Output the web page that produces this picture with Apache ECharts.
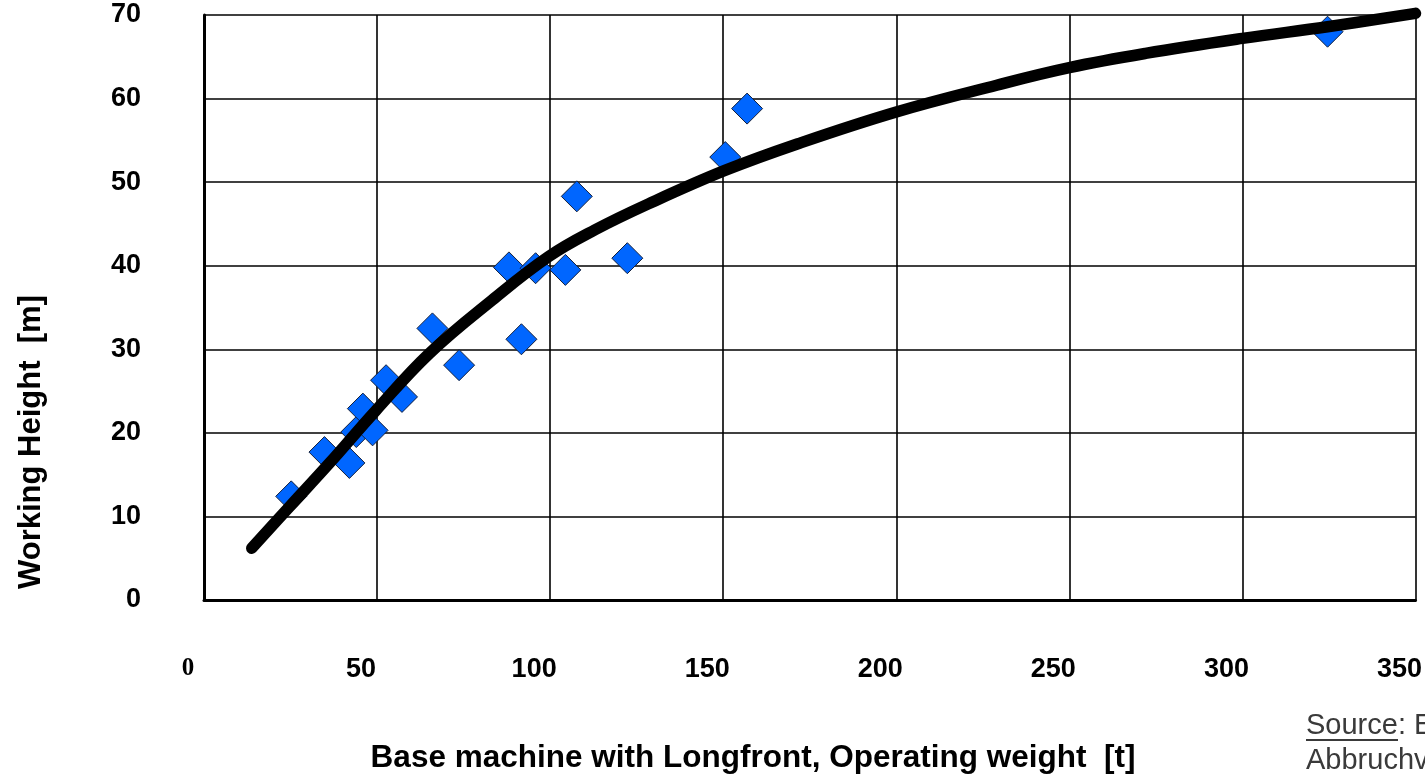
<!DOCTYPE html>
<html>
<head>
<meta charset="utf-8">
<title>Working height vs operating weight</title>
<script src="https://cdn.jsdelivr.net/npm/echarts/dist/echarts.min.js"></script>
<style>
  html, body { margin: 0; padding: 0; background: #fff; }
  #chart { width: 1425px; height: 779px; }
</style>
</head>
<body>
<div id="chart"></div>
<script>
// machines: operating weight [t] / working height [m]
var weightT = [25.2, 34.8, 42.0, 44.0, 45.9, 48.7, 52.6, 57.2, 66.0, 73.7, 88.1, 91.7, 95.8, 104.4, 107.7, 122.3, 150.6, 156.9, 324.6];
var heightM = [12.4, 17.7, 16.4, 20.1, 22.9, 20.3, 26.3, 24.3, 32.5, 28.1, 39.8, 31.2, 39.7, 39.5, 48.3, 40.9, 53.0, 58.8, 68.0];

// trend curve
var trendX = [13.8, 24.8, 36.3, 49.7, 65.1, 83.3, 99.6, 113.0, 128.4, 150.5, 171.6, 200, 229, 250, 272, 300, 324.6, 350];
var trendY = [6.2, 11.2, 16.4, 22.7, 29.5, 35.9, 41.1, 44.3, 47.4, 51.4, 54.6, 58.4, 61.6, 63.7, 65.4, 67.2, 68.6, 70.2];

var xTicks = [0, 50, 100, 150, 200, 250, 300, 350];
var yTicks = [0, 10, 20, 30, 40, 50, 60, 70];

var font = '"Liberation Sans", Arial, sans-serif';

function pairs(a, b) {
    var out = [];
    for (var i = 0; i < a.length; i++) out.push([a[i], b[i]]);
    return out;
}

var chart = echarts.init(document.getElementById("chart"));
chart.setOption({
    animation: false,
    backgroundColor: "#fff",
    grid: { left: 204, top: 15, right: 5, bottom: 179, containLabel: false },
    xAxis: {
        type: "value",
        min: xTicks[0],
        max: xTicks[xTicks.length - 1],
        interval: 50,
        axisLine: { lineStyle: { color: "#000", width: 3 } },
        axisTick: { show: false },
        splitLine: { lineStyle: { color: "#000", width: 1.6 } },
        axisLabel: {
            margin: 56,
            padding: [0, 32, 0, 0],
            fontFamily: font,
            fontSize: 27,
            fontWeight: "bold",
            color: "#000",
            formatter: function (v) { return v === 0 ? "{z|0}" : String(v); },
            rich: { z: { fontFamily: '"Liberation Serif", "Times New Roman", serif', fontSize: 25, fontWeight: "bold", color: "#000" } }
        }
    },
    yAxis: {
        type: "value",
        min: yTicks[0],
        max: yTicks[yTicks.length - 1],
        interval: 10,
        axisLine: { show: true, lineStyle: { color: "#000", width: 3 } },
        axisTick: { show: false },
        splitLine: { lineStyle: { color: "#000", width: 1.6 } },
        axisLabel: {
            margin: 63,
            fontFamily: font,
            fontSize: 27,
            fontWeight: "bold",
            color: "#000"
        }
    },
    series: [
        {
            name: "machines",
            type: "scatter",
            z: 2,
            symbol: "diamond",
            symbolSize: 31,
            itemStyle: { color: "#0066ff", borderColor: "#14213d", borderWidth: 1, opacity: 1 },
            data: pairs(weightT, heightM)
        },
        {
            name: "trend",
            type: "line",
            z: 3,
            smooth: 0.4,
            clip: false,
            showSymbol: false,
            symbol: "none",
            lineStyle: { color: "#000", width: 11.5, cap: "round", join: "round" },
            data: pairs(trendX, trendY)
        }
    ],
    graphic: [
        {
            type: "text",
            x: 31,
            y: 442,
            rotation: Math.PI / 2,
            style: {
                text: "Working Height  [m]",
                fontFamily: font, fontSize: 31, fontWeight: "bold", fill: "#000",
                align: "center", verticalAlign: "middle",
                textAlign: "center", textVerticalAlign: "middle"
            }
        },
        {
            type: "text",
            x: 753,
            y: 758,
            style: {
                text: "Base machine with Longfront, Operating weight  [t]",
                fontFamily: font, fontSize: 31.5, fontWeight: "bold", fill: "#000",
                align: "center", verticalAlign: "middle",
                textAlign: "center", textVerticalAlign: "middle"
            }
        },
        {
            type: "text",
            x: 1306,
            y: 726,
            style: {
                text: "Source: E",
                fontFamily: font, fontSize: 29, fill: "#3a3a3a",
                align: "left", verticalAlign: "middle",
                textAlign: "left", textVerticalAlign: "middle"
            }
        },
        {
            type: "rect",
            shape: { x: 1306, y: 739, width: 92, height: 2 },
            style: { fill: "#3a3a3a" }
        },
        {
            type: "text",
            x: 1306,
            y: 761,
            style: {
                text: "Abbruchv",
                fontFamily: font, fontSize: 29, fill: "#3a3a3a",
                align: "left", verticalAlign: "middle",
                textAlign: "left", textVerticalAlign: "middle"
            }
        }
    ]
});
</script>
</body>
</html>
